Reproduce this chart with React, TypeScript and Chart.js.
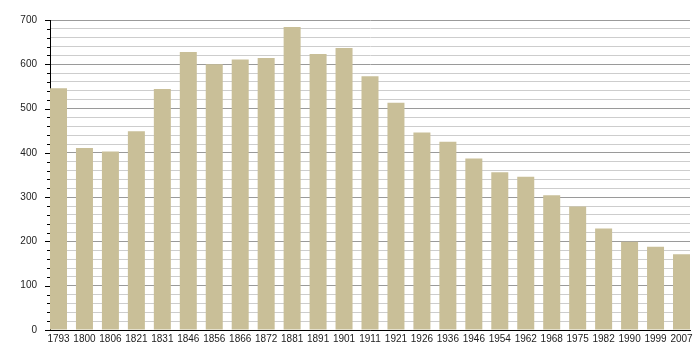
import React, { useEffect, useRef } from "react";
import { Chart, registerables } from "chart.js";

Chart.register(...registerables);

const categories = [
  "1793", "1800", "1806", "1821", "1831", "1846", "1856", "1866", "1872", "1881",
  "1891", "1901", "1911", "1921", "1926", "1936", "1946", "1954", "1962", "1968",
  "1975", "1982", "1990", "1999", "2007",
];
const population = [
  546, 411, 403, 449, 544, 628, 600, 611, 614, 684,
  623, 637, 573, 513, 446, 425, 387, 356, 346, 304,
  279, 229, 199, 188, 171,
];
const yMin = 0;
const yMax = 700;
const yStep = 20;
const yLabelStep = 100;

const tickMarks = {
  id: "tickMarks",
  afterDraw(chart: any) {
    const y = chart.scales.y;
    const ctx = chart.ctx;
    const x0 = chart.chartArea.left;
    ctx.save();
    ctx.strokeStyle = "#000";
    ctx.lineWidth = 1;
    for (let v = yMin; v <= yMax; v += yStep) {
      const py = Math.round(y.getPixelForValue(v)) + 0.5;
      const len = v % yLabelStep === 0 ? 5 : 3;
      ctx.beginPath();
      ctx.moveTo(x0 - len, py);
      ctx.lineTo(x0, py);
      ctx.stroke();
    }
    ctx.restore();
  },
};

export default function App() {
  const ref = useRef<HTMLCanvasElement>(null);
  useEffect(() => {
    document.body.style.margin = "0";
    const half = 0.3275;
    const chart = new Chart(ref.current!, {
      type: "bar",
      data: {
        datasets: [
          {
            data: population.map((v, i) => ({ x: i, y: v })),
            backgroundColor: "#c9bf98",
            borderWidth: 0,
            categoryPercentage: 1,
            barPercentage: 0.655,
          },
        ],
      },
      options: {
        animation: false,
        responsive: false,
        events: [],
        layout: { padding: { left: 0, right: 10, top: 20, bottom: 0 } },
        plugins: { legend: { display: false }, tooltip: { enabled: false } },
        scales: {
          x: {
            type: "linear",
            offset: false,
            min: -half,
            max: categories.length - 1 + half,
            afterBuildTicks: (scale: any) => {
              scale.ticks = categories.map((_, i) => ({ value: i }));
            },
            afterFit: (scale: any) => {
              scale.height = 30;
            },
            ticks: {
              autoSkip: false,
              maxRotation: 0,
              padding: 3,
              color: "#222",
              font: { family: "Liberation Sans", size: 10 },
              callback: (v: any) => categories[v] ?? "",
            },
            grid: { display: false, drawTicks: false, offset: false },
            border: { display: true, color: "#000", width: 1 },
          },
          y: {
            min: yMin,
            max: yMax,
            afterFit: (scale: any) => {
              scale.width = 50;
            },
            ticks: {
              stepSize: yStep,
              autoSkip: false,
              padding: 8,
              color: "#222",
              font: { family: "Liberation Sans", size: 10 },
              callback: (v: any) => (v % yLabelStep === 0 ? String(v) : ""),
            },
            grid: {
              color: (c: any) => (c.tick && c.tick.value % yLabelStep === 0 ? "#9a9a9a" : "#cdcdcd"),
              tickLength: 5,
              tickColor: "rgba(0,0,0,0)",
              drawTicks: true,
            },
            border: { display: true, color: "#000", width: 1 },
          },
        },
      },
      plugins: [tickMarks],
    });
    return () => chart.destroy();
  }, []);
  return <canvas ref={ref} width={700} height={360} style={{ display: "block" }} />;
}
